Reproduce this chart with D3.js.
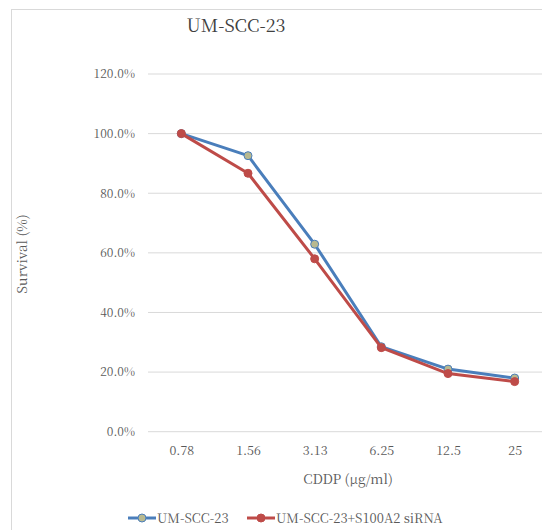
<!DOCTYPE html>
<html>
<head>
<meta charset="utf-8">
<script src="https://cdn.jsdelivr.net/npm/d3@7"></script>
<style>
  body { margin: 0; background: #fff; }
  svg { display: block; }
</style>
</head>
<body>
<svg id="chart" width="542" height="530"></svg>
<script>
// doses (x categories) and survival fractions
var doses = ['0.78', '1.56', '3.13', '6.25', '12.5', '25']
var control = [1.000, 0.926, 0.629, 0.285, 0.210, 0.180]
var sirna = [1.000, 0.867, 0.580, 0.282, 0.195, 0.168]
var yTicks = [0, 0.2, 0.4, 0.6, 0.8, 1.0, 1.2]
var seriesNames = ['UM-SCC-23', 'UM-SCC-23+S100A2 siRNA']

var font = '"Noto Serif CJK JP"'
var grey = '#595959'

var svg = d3.select('#chart')

var m = { left: 148, right: 548, top: 74, bottom: 431.7 }

// outer chart frame (runs off the right/bottom edge like the source)
svg.append('rect')
  .attr('x', 11.5).attr('y', 9.5)
  .attr('width', 560).attr('height', 560)
  .attr('fill', '#fff')
  .attr('stroke', '#d9d9d9')

var x = d3.scalePoint()
  .domain(doses)
  .range([m.left, m.right])
  .padding(0.5)

var y = d3.scaleLinear()
  .domain([0, 1.2])
  .range([m.bottom, m.top])

// gridlines
svg.append('g')
  .selectAll('line')
  .data(yTicks)
  .enter().append('line')
  .attr('x1', m.left).attr('x2', m.right)
  .attr('y1', function (d) { return y(d) }).attr('y2', function (d) { return y(d) })
  .attr('stroke', '#d9d9d9')
  .attr('stroke-width', 1)

// y axis labels
var yAxis = d3.axisLeft(y)
  .tickValues(yTicks)
  .tickFormat(d3.format('.1%'))
  .tickSize(0)
  .tickPadding(13)

svg.append('g')
  .attr('transform', 'translate(' + m.left + ',0)')
  .call(yAxis)
  .attr('font-family', null)
  .call(function (g) { g.select('.domain').remove() })
  .selectAll('text')
  .attr('font-size', 12)
  .attr('fill', grey)
  .style('font-family', font)

// x axis labels
var xAxis = d3.axisBottom(x).tickSize(0).tickPadding(14)

svg.append('g')
  .attr('transform', 'translate(0,' + m.bottom + ')')
  .call(xAxis)
  .attr('font-family', null)
  .call(function (g) { g.select('.domain').remove() })
  .selectAll('text')
  .attr('font-size', 12.5)
  .attr('fill', grey)
  .style('font-family', font)

var line = d3.line()
  .x(function (d, i) { return x(doses[i]) })
  .y(function (d) { return y(d) })

var blue = '#4a7ebb', red = '#be4b48', khaki = '#b8b990'

function drawSeries(vals, color, fill) {
  svg.append('path')
    .datum(vals)
    .attr('d', line)
    .attr('fill', 'none')
    .attr('stroke', color)
    .attr('stroke-width', 3)
    .attr('stroke-linejoin', 'round')

  svg.append('g')
    .selectAll('circle')
    .data(vals)
    .enter().append('circle')
    .attr('cx', function (d, i) { return x(doses[i]) })
    .attr('cy', function (d) { return y(d) })
    .attr('r', 4)
    .attr('fill', fill)
    .attr('stroke', color)
    .attr('stroke-width', 1)
}

drawSeries(control, blue, khaki)
drawSeries(sirna, red, red)

// titles
svg.append('text')
  .attr('x', 236).attr('y', 32)
  .attr('text-anchor', 'middle')
  .attr('font-size', 18)
  .attr('fill', '#404040')
  .style('font-family', font)
  .text('UM-SCC-23')

svg.append('text')
  .attr('transform', 'translate(27,254) rotate(-90)')
  .attr('text-anchor', 'middle')
  .attr('font-size', 13.5)
  .attr('fill', grey)
  .style('font-family', font)
  .text('Survival (%)')

svg.append('text')
  .attr('x', 348).attr('y', 484)
  .attr('text-anchor', 'middle')
  .attr('font-size', 13.5)
  .attr('fill', grey)
  .style('font-family', font)
  .text('CDDP (μg/ml)')

// legend
var legend = svg.append('g')
  .selectAll('g')
  .data(seriesNames)
  .enter().append('g')
  .attr('transform', function (d, i) { return 'translate(' + [128, 247][i] + ',518)' })

legend.append('line')
  .attr('x1', 0).attr('x2', 28)
  .attr('stroke', function (d, i) { return [blue, red][i] })
  .attr('stroke-width', 3)

legend.append('circle')
  .attr('cx', 14).attr('r', 4)
  .attr('fill', function (d, i) { return [khaki, red][i] })
  .attr('stroke', function (d, i) { return [blue, red][i] })

legend.append('text')
  .attr('x', 29).attr('y', 4.5)
  .attr('font-size', 13)
  .attr('fill', grey)
  .style('font-family', font)
  .text(function (d) { return d })
</script>
</body>
</html>
